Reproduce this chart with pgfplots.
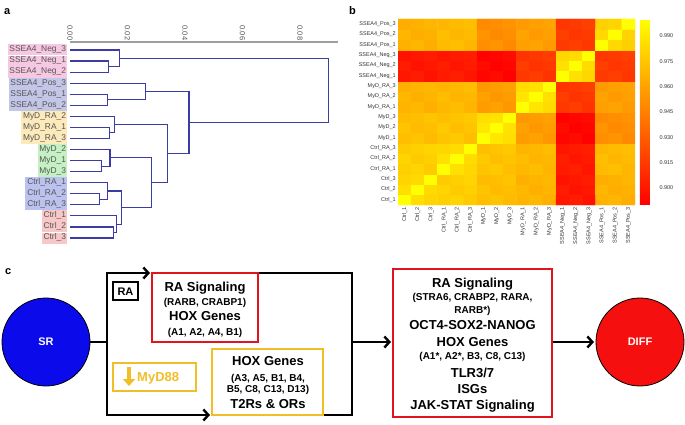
\documentclass[border=0pt]{standalone}
\usepackage{pgfplots}
\pgfplotsset{compat=1.18}
\usepackage{fontspec}
\setmainfont{Liberation Sans}
\usetikzlibrary{arrows.meta}
\definecolor{dend}{RGB}{60,60,165}
\definecolor{negc}{RGB}{247,200,226}
\definecolor{posc}{RGB}{196,198,232}
\definecolor{mrac}{RGB}{253,234,186}
\definecolor{myc}{RGB}{196,240,196}
\definecolor{crac}{RGB}{188,194,240}
\definecolor{ctrc}{RGB}{248,200,200}
\definecolor{lbl}{RGB}{85,85,85}
\definecolor{boxred}{RGB}{225,20,30}
\definecolor{boxyel}{RGB}{242,190,40}
\definecolor{srblue}{RGB}{10,10,235}
\definecolor{diffred}{RGB}{245,15,15}
\newcommand{\lb}[2]{{\setlength{\fboxsep}{0.8pt}\colorbox{#1}{\strut\hspace{1pt}#2}}}
\pgfplotsset{dg/.style={draw=dend, line width=1.1pt, mark=none, solid}}
\begin{document}
\begin{tikzpicture}
\useasboundingbox (0,0) rectangle (685pt,-425pt);
\node[anchor=base west, inner sep=0pt, font=\bfseries\fontsize{11}{12}\selectfont] at (4pt,-15pt) {a};
\node[anchor=base west, inner sep=0pt, font=\bfseries\fontsize{11}{12}\selectfont] at (349pt,-15pt) {b};
% ---------------- panel a: dendrogram
\begin{axis}[at={(70pt,-42pt)}, anchor=north west, scale only axis,
  width=268pt, height=203pt,
  xmin=0, xmax=0.0932, ymin=-0.72, ymax=17.63, y dir=reverse,
  axis x line=top, axis y line=left,
  x axis line style={draw=gray!75, line width=1.3pt, -},
  y axis line style={draw=none},
  major tick length=0pt,
  xtick={0,0.02,0.04,0.06,0.08},
  /pgf/number format/assume math mode=true,
  /pgf/number format/fixed, /pgf/number format/fixed zerofill, /pgf/number format/precision=2,
  scaled x ticks=false,
  xticklabel style={rotate=-90, anchor=east, inner sep=1.5pt, font=\fontsize{7.5}{8}\selectfont, text=lbl},
  ytick={0,...,17},
  yticklabels={\lb{negc}{SSEA4\_Neg\_3},\lb{negc}{SSEA4\_Neg\_1},\lb{negc}{SSEA4\_Neg\_2},
    \lb{posc}{SSEA4\_Pos\_3},\lb{posc}{SSEA4\_Pos\_1},\lb{posc}{SSEA4\_Pos\_2},
    \lb{mrac}{MyD\_RA\_2},\lb{mrac}{MyD\_RA\_1},\lb{mrac}{MyD\_RA\_3},
    \lb{myc}{MyD\_2},\lb{myc}{MyD\_1},\lb{myc}{MyD\_3},
    \lb{crac}{Ctrl\_RA\_1},\lb{crac}{Ctrl\_RA\_2},\lb{crac}{Ctrl\_RA\_3},
    \lb{ctrc}{Ctrl\_1},\lb{ctrc}{Ctrl\_2},\lb{ctrc}{Ctrl\_3}},
  yticklabel style={anchor=east, inner sep=0pt, xshift=-3pt, font=\fontsize{8.4}{9.4}\selectfont, text=lbl},
  clip=false]
\addplot[dg] coordinates {(0,1) (0.0133,1) (0.0133,2) (0,2)};
\addplot[dg] coordinates {(0,0) (0.0171,0) (0.0171,1.5) (0.0133,1.5)};
\addplot[dg] coordinates {(0,4) (0.0129,4) (0.0129,5) (0,5)};
\addplot[dg] coordinates {(0,3) (0.0262,3) (0.0262,4.5) (0.0129,4.5)};
\addplot[dg] coordinates {(0,7) (0.0136,7) (0.0136,8) (0,8)};
\addplot[dg] coordinates {(0,6) (0.0154,6) (0.0154,7.5) (0.0136,7.5)};
\addplot[dg] coordinates {(0,10) (0.0108,10) (0.0108,11) (0,11)};
\addplot[dg] coordinates {(0,9) (0.0139,9) (0.0139,10.5) (0.0108,10.5)};
\addplot[dg] coordinates {(0,13) (0.0104,13) (0.0104,14) (0,14)};
\addplot[dg] coordinates {(0,12) (0.0129,12) (0.0129,13.5) (0.0104,13.5)};
\addplot[dg] coordinates {(0,16) (0.0150,16) (0.0150,17) (0,17)};
\addplot[dg] coordinates {(0,15) (0.0163,15) (0.0163,16.5) (0.0150,16.5)};
\addplot[dg] coordinates {(0.0129,12.75) (0.0180,12.75) (0.0180,15.75) (0.0163,15.75)};
\addplot[dg] coordinates {(0.0139,9.75) (0.0282,9.75) (0.0282,14.25) (0.0180,14.25)};
\addplot[dg] coordinates {(0.0154,6.75) (0.0338,6.75) (0.0338,12) (0.0282,12)};
\addplot[dg] coordinates {(0.0262,3.75) (0.0414,3.75) (0.0414,9.375) (0.0338,9.375)};
\addplot[dg] coordinates {(0.0171,0.75) (0.0898,0.75) (0.0898,6.5625) (0.0414,6.5625)};
\end{axis}
% ---------------- panel b: heatmap
\begin{axis}[at={(398pt,-19pt)}, anchor=north west, scale only axis,
  width=237pt, height=186pt,
  xmin=-0.5, xmax=17.5, ymin=-0.5, ymax=17.5,
  axis line style={draw=none}, major tick length=0pt,
  xtick={0,...,17}, ytick={0,...,17},
  xticklabels={Ctrl\_1,Ctrl\_2,Ctrl\_3,Ctrl\_RA\_1,Ctrl\_RA\_2,Ctrl\_RA\_3,MyD\_1,MyD\_2,MyD\_3,MyD\_RA\_1,MyD\_RA\_2,MyD\_RA\_3,SSEA4\_Neg\_1,SSEA4\_Neg\_2,SSEA4\_Neg\_3,SSEA4\_Pos\_1,SSEA4\_Pos\_2,SSEA4\_Pos\_3},
  yticklabels={Ctrl\_1,Ctrl\_2,Ctrl\_3,Ctrl\_RA\_1,Ctrl\_RA\_2,Ctrl\_RA\_3,MyD\_1,MyD\_2,MyD\_3,MyD\_RA\_1,MyD\_RA\_2,MyD\_RA\_3,SSEA4\_Neg\_1,SSEA4\_Neg\_2,SSEA4\_Neg\_3,SSEA4\_Pos\_1,SSEA4\_Pos\_2,SSEA4\_Pos\_3},
  xticklabel style={rotate=90, anchor=east, inner sep=2pt, font=\fontsize{5.5}{6}\selectfont, text=black!80},
  yticklabel style={anchor=east, inner sep=2pt, font=\fontsize{5.5}{6}\selectfont, text=black!80},
  colormap={ry}{rgb255=(255,0,0) rgb255=(255,255,0)},
  point meta min=0.89, point meta max=1.0,
  colorbar,
  colorbar style={at={(1.021,1)}, anchor=north west, width=10pt, scale only axis,
    ytick={0.900,0.915,0.930,0.945,0.960,0.975,0.990},
    axis line style={draw=none}, major tick length=0pt,
    /pgf/number format/assume math mode=true,
    /pgf/number format/fixed, /pgf/number format/fixed zerofill, /pgf/number format/precision=3,
    scaled y ticks=false,
    yticklabel style={font=\fontsize{5.5}{6}\selectfont, xshift=6pt, text=black!80}}]
\addplot[matrix plot*, mesh/cols=18, point meta=explicit] coordinates {
(0,0)[1.000] (1,0)[.985] (2,0)[.981] (3,0)[.979] (4,0)[.981] (5,0)[.977] (6,0)[.972] (7,0)[.974] (8,0)[.970] (9,0)[.967] (10,0)[.969] (11,0)[.965] (12,0)[.900] (13,0)[.902] (14,0)[.898] (15,0)[.966] (16,0)[.968] (17,0)[.964]
(0,1)[.985] (1,1)[1.000] (2,1)[.983] (3,1)[.981] (4,1)[.977] (5,1)[.979] (6,1)[.974] (7,1)[.970] (8,1)[.972] (9,1)[.969] (10,1)[.965] (11,1)[.967] (12,1)[.902] (13,1)[.898] (14,1)[.900] (15,1)[.968] (16,1)[.964] (17,1)[.966]
(0,2)[.981] (1,2)[.983] (2,2)[1.000] (3,2)[.977] (4,2)[.979] (5,2)[.981] (6,2)[.970] (7,2)[.972] (8,2)[.974] (9,2)[.965] (10,2)[.967] (11,2)[.969] (12,2)[.898] (13,2)[.900] (14,2)[.902] (15,2)[.964] (16,2)[.966] (17,2)[.968]
(0,3)[.979] (1,3)[.981] (2,3)[.977] (3,3)[1.000] (4,3)[.986] (5,3)[.982] (6,3)[.974] (7,3)[.976] (8,3)[.972] (9,3)[.969] (10,3)[.971] (11,3)[.967] (12,3)[.901] (13,3)[.903] (14,3)[.899] (15,3)[.970] (16,3)[.972] (17,3)[.968]
(0,4)[.981] (1,4)[.977] (2,4)[.979] (3,4)[.986] (4,4)[1.000] (5,4)[.984] (6,4)[.976] (7,4)[.972] (8,4)[.974] (9,4)[.971] (10,4)[.967] (11,4)[.969] (12,4)[.903] (13,4)[.899] (14,4)[.901] (15,4)[.972] (16,4)[.968] (17,4)[.970]
(0,5)[.977] (1,5)[.979] (2,5)[.981] (3,5)[.982] (4,5)[.984] (5,5)[1.000] (6,5)[.972] (7,5)[.974] (8,5)[.976] (9,5)[.967] (10,5)[.969] (11,5)[.971] (12,5)[.899] (13,5)[.901] (14,5)[.903] (15,5)[.968] (16,5)[.970] (17,5)[.972]
(0,6)[.972] (1,6)[.974] (2,6)[.970] (3,6)[.974] (4,6)[.976] (5,6)[.972] (6,6)[1.000] (7,6)[.989] (8,6)[.985] (9,6)[.957] (10,6)[.959] (11,6)[.955] (12,6)[.893] (13,6)[.895] (14,6)[.891] (15,6)[.951] (16,6)[.953] (17,6)[.949]
(0,7)[.974] (1,7)[.970] (2,7)[.972] (3,7)[.976] (4,7)[.972] (5,7)[.974] (6,7)[.989] (7,7)[1.000] (8,7)[.987] (9,7)[.959] (10,7)[.955] (11,7)[.957] (12,7)[.895] (13,7)[.891] (14,7)[.893] (15,7)[.953] (16,7)[.949] (17,7)[.951]
(0,8)[.970] (1,8)[.972] (2,8)[.974] (3,8)[.972] (4,8)[.974] (5,8)[.976] (6,8)[.985] (7,8)[.987] (8,8)[1.000] (9,8)[.955] (10,8)[.957] (11,8)[.959] (12,8)[.891] (13,8)[.893] (14,8)[.895] (15,8)[.949] (16,8)[.951] (17,8)[.953]
(0,9)[.967] (1,9)[.969] (2,9)[.965] (3,9)[.969] (4,9)[.971] (5,9)[.967] (6,9)[.957] (7,9)[.959] (8,9)[.955] (9,9)[1.000] (10,9)[.988] (11,9)[.984] (12,9)[.914] (13,9)[.916] (14,9)[.912] (15,9)[.958] (16,9)[.960] (17,9)[.956]
(0,10)[.969] (1,10)[.965] (2,10)[.967] (3,10)[.971] (4,10)[.967] (5,10)[.969] (6,10)[.959] (7,10)[.955] (8,10)[.957] (9,10)[.988] (10,10)[1.000] (11,10)[.986] (12,10)[.916] (13,10)[.912] (14,10)[.914] (15,10)[.960] (16,10)[.956] (17,10)[.958]
(0,11)[.965] (1,11)[.967] (2,11)[.969] (3,11)[.967] (4,11)[.969] (5,11)[.971] (6,11)[.955] (7,11)[.957] (8,11)[.959] (9,11)[.984] (10,11)[.986] (11,11)[1.000] (12,11)[.912] (13,11)[.914] (14,11)[.916] (15,11)[.956] (16,11)[.958] (17,11)[.960]
(0,12)[.900] (1,12)[.902] (2,12)[.898] (3,12)[.901] (4,12)[.903] (5,12)[.899] (6,12)[.893] (7,12)[.895] (8,12)[.891] (9,12)[.914] (10,12)[.916] (11,12)[.912] (12,12)[1.000] (13,12)[.986] (14,12)[.982] (15,12)[.915] (16,12)[.917] (17,12)[.913]
(0,13)[.902] (1,13)[.898] (2,13)[.900] (3,13)[.903] (4,13)[.899] (5,13)[.901] (6,13)[.895] (7,13)[.891] (8,13)[.893] (9,13)[.916] (10,13)[.912] (11,13)[.914] (12,13)[.986] (13,13)[1.000] (14,13)[.984] (15,13)[.917] (16,13)[.913] (17,13)[.915]
(0,14)[.898] (1,14)[.900] (2,14)[.902] (3,14)[.899] (4,14)[.901] (5,14)[.903] (6,14)[.891] (7,14)[.893] (8,14)[.895] (9,14)[.912] (10,14)[.914] (11,14)[.916] (12,14)[.982] (13,14)[.984] (14,14)[1.000] (15,14)[.913] (16,14)[.915] (17,14)[.917]
(0,15)[.966] (1,15)[.968] (2,15)[.964] (3,15)[.970] (4,15)[.972] (5,15)[.968] (6,15)[.951] (7,15)[.953] (8,15)[.949] (9,15)[.958] (10,15)[.960] (11,15)[.956] (12,15)[.915] (13,15)[.917] (14,15)[.913] (15,15)[1.000] (16,15)[.983] (17,15)[.979]
(0,16)[.968] (1,16)[.964] (2,16)[.966] (3,16)[.972] (4,16)[.968] (5,16)[.970] (6,16)[.953] (7,16)[.949] (8,16)[.951] (9,16)[.960] (10,16)[.956] (11,16)[.958] (12,16)[.917] (13,16)[.913] (14,16)[.915] (15,16)[.983] (16,16)[1.000] (17,16)[.981]
(0,17)[.964] (1,17)[.966] (2,17)[.968] (3,17)[.968] (4,17)[.970] (5,17)[.972] (6,17)[.949] (7,17)[.951] (8,17)[.953] (9,17)[.956] (10,17)[.958] (11,17)[.960] (12,17)[.913] (13,17)[.915] (14,17)[.917] (15,17)[.979] (16,17)[.981] (17,17)[1.000]
};
\end{axis}
% ---------------- panel c: diagram
\begin{scope}[x=1pt, y=-1pt,
  lw/.style={line width=2.6pt, line join=miter},
  arr/.style={-{Straight Barb[length=5pt,width=11pt,line width=2.4pt]}},
  big/.style={font=\fontsize{13}{14}\selectfont\bfseries, inner sep=0pt, text height=9.3pt, text depth=0pt},
  small/.style={font=\fontsize{10}{11}\selectfont\bfseries, inner sep=0pt, text height=7.2pt, text depth=0pt}]
\node[anchor=base west, inner sep=0pt, font=\bfseries\fontsize{11}{12}\selectfont] at (5,274) {c};
% lines
\draw[lw] (90,342)--(107,342);
\draw[lw,arr] (107,342)--(107,273)--(150,273);
\draw[lw,arr] (107,342)--(107,415)--(210,415);
\draw[lw] (258,273)--(352,273)--(352,415)--(323,415);
\draw[lw,arr] (352,342)--(391,342);
\draw[lw,arr] (552,342)--(594,342);
% circles
\draw[fill=srblue, draw=black, line width=0.8pt] (46,342) circle[radius=44pt];
\node[font=\fontsize{11}{12}\selectfont\bfseries, text=white] at (46,342) {SR};
\draw[fill=diffred, draw=black, line width=0.8pt] (640,342) circle[radius=44pt];
\node[font=\fontsize{11}{12}\selectfont\bfseries, text=white] at (640,342) {DIFF};
% RA box
\draw[line width=1.5pt, fill=white] (113,282) rectangle (138,300);
\node[font=\fontsize{11}{12}\selectfont\bfseries, inner sep=0pt, text height=8pt, text depth=0pt] at (125.5,291) {RA};
% box 1
\draw[draw=boxred, line width=2.6pt, fill=white] (152,273) rectangle (258,342);
\node[big] at (205,286.7) {RA Signaling};
\node[small] at (205,302) {(RARB, CRABP1)};
\node[big] at (205,316) {HOX Genes};
\node[small] at (205,331.7) {(A1, A2, A4, B1)};
% MyD88 box
\draw[draw=boxyel, line width=2pt, fill=white] (113,363) rectangle (196,391);
\draw[draw=boxyel, line width=3.6pt, -{Triangle[length=7pt,width=12pt]}] (129,367)--(129,386);
\node[big, text=boxyel, anchor=west] at (137,377) {MyD88};
% box 2
\draw[draw=boxyel, line width=2.6pt, fill=white] (212,349) rectangle (323,415);
\node[big] at (268,361.3) {HOX Genes};
\node[small] at (268,377.7) {(A3, A5, B1, B4,};
\node[small] at (268,388.7) {B5, C8, C13, D13)};
\node[big] at (268,404) {T2Rs \& ORs};
% big box
\draw[draw=boxred, line width=2.6pt, fill=white] (393,269) rectangle (552,417);
\node[big] at (472.5,283.3) {RA Signaling};
\node[small] at (472.5,297) {(STRA6, CRABP2, RARA,};
\node[small] at (472.5,310.3) {RARB*)};
\node[big] at (472.5,325) {OCT4-SOX2-NANOG};
\node[big] at (472.5,342) {HOX Genes};
\node[small] at (472.5,355.7) {(A1*, A2*, B3, C8, C13)};
\node[big] at (472.5,372.7) {TLR3/7};
\node[big] at (472.5,388.7) {ISGs};
\node[big] at (472.5,405) {JAK-STAT Signaling};
\end{scope}
\end{tikzpicture}
\end{document}
